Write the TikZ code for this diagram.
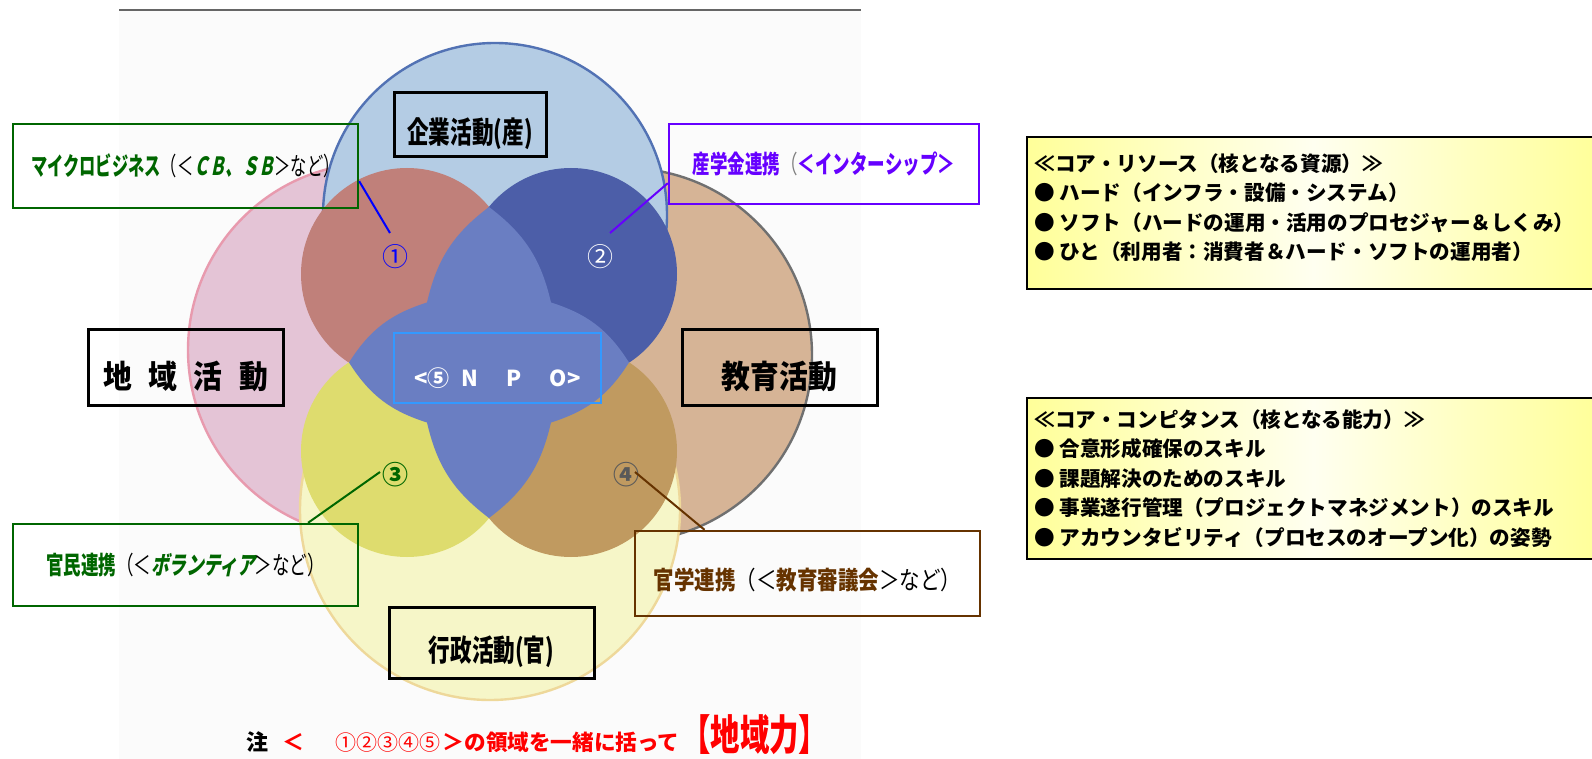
\documentclass[tikz,border=0pt]{standalone}
\usepackage{fontspec}
\setmainfont{Noto Sans CJK JP}
\newfontfamily\jpnarrow{Noto Sans CJK JP}[FakeStretch=0.65]
\newfontfamily\jplink{Noto Sans CJK JP}[FakeStretch=0.7]
\newfontfamily\jpwide{Noto Sans CJK JP}[FakeStretch=0.82]
\newfontfamily\jpmid{Noto Sans CJK JP}[FakeStretch=0.9]
\newfontfamily\jpbox{Noto Sans CJK JP}[FakeStretch=0.72]
\newfontfamily\jpslant{Noto Sans CJK JP}[FakeStretch=0.65,FakeSlant=0.2]
\newfontfamily\jpslantb{Noto Sans CJK JP}[FakeStretch=0.7,FakeSlant=0.2]
\newcommand{\lowtext}[2][7pt]{\raisebox{-#1}[5pt][0pt]{#2}}

\definecolor{topfill}{HTML}{B4CCE4}
\definecolor{topline}{HTML}{5272B4}
\definecolor{leftfill}{HTML}{E4C4D6}
\definecolor{leftline}{HTML}{E89AAE}
\definecolor{rightfill}{HTML}{D6B496}
\definecolor{rightline}{HTML}{707070}
\definecolor{botfill}{HTML}{F6F6C8}
\definecolor{botline}{HTML}{EED89A}
\definecolor{petalred}{HTML}{C0807A}
\definecolor{petalnavy}{HTML}{4C5EA8}
\definecolor{petalyellow}{HTML}{DEDC6E}
\definecolor{petalbrown}{HTML}{C09A60}
\definecolor{npoblue}{HTML}{6A7EC2}
\definecolor{npoline}{HTML}{3399FF}
\definecolor{dkgreen}{HTML}{006600}
\definecolor{violet1}{HTML}{6600FF}
\definecolor{brown1}{HTML}{663300}
\definecolor{coreyellow}{HTML}{FFFF99}
\definecolor{corelight}{HTML}{FFFFF0}

\begin{document}
\begin{tikzpicture}[x=0.5pt, y=-0.5pt,
    area/.style={line width=1.2pt},
    actbox/.style={draw=black, line width=1.5pt, inner sep=0pt,
        font=\jpbox\bfseries\fontsize{15}{15}\selectfont},
    linkbox/.style={draw, line width=1.2pt, inner sep=0pt,
        font=\jplink\fontsize{12.5}{12.5}\selectfont},
    num/.style={inner sep=0pt, font=\fontsize{13}{13}\selectfont},
    link/.style={line width=1pt},
    corebox/.style={draw=black, line width=1pt, left color=coreyellow,
        right color=coreyellow, middle color=corelight},
    coretext/.style={align=left, inner sep=0pt,
        font=\bfseries\fontsize{10.3}{14.75}\selectfont}
]
    \useasboundingbox (0,0) rectangle (1592,759);
    \fill[gray!3] (119,10) rectangle (861,759);
    \draw[line width=1pt, gray!80!black] (119,10) -- (861,10);

    \filldraw[area, fill=leftfill, draw=leftline] (375,350) circle (187);
    \filldraw[area, fill=rightfill, draw=rightline] (625,355) circle (187);
    \filldraw[area, fill=topfill, draw=topline] (495,215) circle (172);
    \filldraw[area, fill=botfill, draw=botline] (490,510) circle (190);

    \fill[petalred] (407,274) circle (106);
    \fill[petalnavy] (571,274) circle (106);
    \fill[petalyellow] (407,451) circle (106);
    \fill[petalbrown] (571,451) circle (106);
    \fill[npoblue] (489,207) to[bend left=20] (551,302.5) to[bend left=20] (629,362.5)
        to[bend left=20] (551,422.5) to[bend left=20] (489,518) to[bend left=20] (427,422.5)
        to[bend left=20] (349,362.5) to[bend left=20] (427,302.5) to[bend left=20] (489,207) -- cycle;

    \node[actbox, minimum width=76pt, minimum height=32pt] (san) at (470,125) {\lowtext{企業活動(産)}};
    \node[actbox, minimum width=97.5pt, minimum height=38pt,
        font=\jpmid\bfseries\fontsize{16}{16}\selectfont] (chiiki) at (185.5,368)
        {\lowtext[8pt]{地\hspace{8.3pt}域\hspace{8.3pt}活\hspace{8.3pt}動}};
    \node[actbox, minimum width=97.5pt, minimum height=38pt,
        font=\jpmid\bfseries\fontsize{16}{16}\selectfont] (kyoiku) at (779.5,368) {\lowtext[8pt]{教育活動}};
    \node[actbox, minimum width=102.5pt, minimum height=35.5pt] (gyosei) at (491.5,642.5) {\lowtext{行政活動(官)}};
    \node[draw=npoline, line width=1pt, inner sep=0pt, minimum width=103.5pt, minimum height=35pt,
        text=white, font=\bfseries\fontsize{11}{11}\selectfont] (npo) at (497.5,368)
        {\lowtext{<⑤\hspace{6pt}N\hspace{14pt}P\hspace{14pt}O>}};

    \node[num, text=blue] (n1) at (395,257) {①};
    \node[num, text=white] (n2) at (600,257) {②};
    \node[num, text=dkgreen, font=\bfseries\fontsize{13}{13}\selectfont] (n3) at (395,475) {③};
    \node[num, text=gray!70!black, font=\bfseries\fontsize{13}{13}\selectfont] (n4) at (626,475) {④};

    \node[linkbox, draw=dkgreen, minimum width=172.5pt, minimum height=42pt,
        font=\jpnarrow\fontsize{12.5}{12.5}\selectfont] (mb) at (185.5,166)
        {\textcolor{dkgreen}{\bfseries マイクロビジネス}（＜{\jpslant\bfseries\textcolor{dkgreen}{ＣＢ、ＳＢ}}＞など）};
    \node[linkbox, draw=violet1, minimum width=155pt, minimum height=40pt] (ind) at (824,164)
        {{\bfseries\textcolor{violet1}{産学金連携}}\textcolor{gray}{（}{\bfseries\textcolor{violet1}{＜インターシップ＞}}};
    \node[linkbox, draw=dkgreen, minimum width=172.5pt, minimum height=41pt] (kan) at (185.5,565)
        {{\bfseries\textcolor{dkgreen}{官民連携}}（＜{\jpslantb\bfseries\textcolor{dkgreen}{ボランティア}}＞など）};
    \node[linkbox, draw=brown1, minimum width=172.5pt, minimum height=42.5pt,
        font=\jpwide\fontsize{12.5}{12.5}\selectfont] (kg) at (807.5,573.5)
        {\lowtext[5.6pt]{{\bfseries\textcolor{brown1}{官学連携}}（＜{\bfseries\textcolor{brown1}{教育審議会}}＞など）}};

    \coordinate (e1) at (390,233);
    \coordinate (e2) at (610,233);
    \coordinate (e3) at (380,472);
    \coordinate (e4) at (635,472);
    \draw[link, blue] (mb.-5) -- (e1);
    \draw[link, violet1] (ind.187) -- (e2);
    \draw[link, dkgreen] (kan.19) -- (e3);
    \draw[link, brown1] (kg.157) -- (e4);

    \node[corebox, minimum width=286.5pt, minimum height=76pt] (res) at (1313.5,213) {};
    \node[coretext, anchor=north west] (restext) at (1034,153)
        {≪コア・リソース（核となる資源）≫\\
         ● ハード（インフラ・設備・システム）\\
         ● ソフト（ハードの運用・活用のプロセジャー＆しくみ）\\
         ● ひと（利用者：消費者＆ハード・ソフトの運用者）};
    \node[corebox, minimum width=286.5pt, minimum height=80.5pt] (comp) at (1313.5,478.5) {};
    \node[coretext, anchor=north west] (comptext) at (1034,409)
        {≪コア・コンピタンス（核となる能力）≫\\
         ● 合意形成確保のスキル\\
         ● 課題解決のためのスキル\\
         ● 事業遂行管理（プロジェクトマネジメント）のスキル\\
         ● アカウンタビリティ（プロセスのオープン化）の姿勢};

    \node[anchor=base west, inner sep=0pt, font=\bfseries\fontsize{11}{11}\selectfont] (note) at (246,750)
        {注\hspace{7pt}\textcolor{red}{＜\hspace{15.5pt}{\mdseries\fontsize{10.5}{10.5}\selectfont ①②③④⑤}\hspace{1pt}＞{\fontsize{10.8}{10.8}\selectfont の領域を一緒に括って}\hspace{1pt}{\jplink\fontsize{21}{21}\selectfont 【地域力】}}};
\end{tikzpicture}
\end{document}
